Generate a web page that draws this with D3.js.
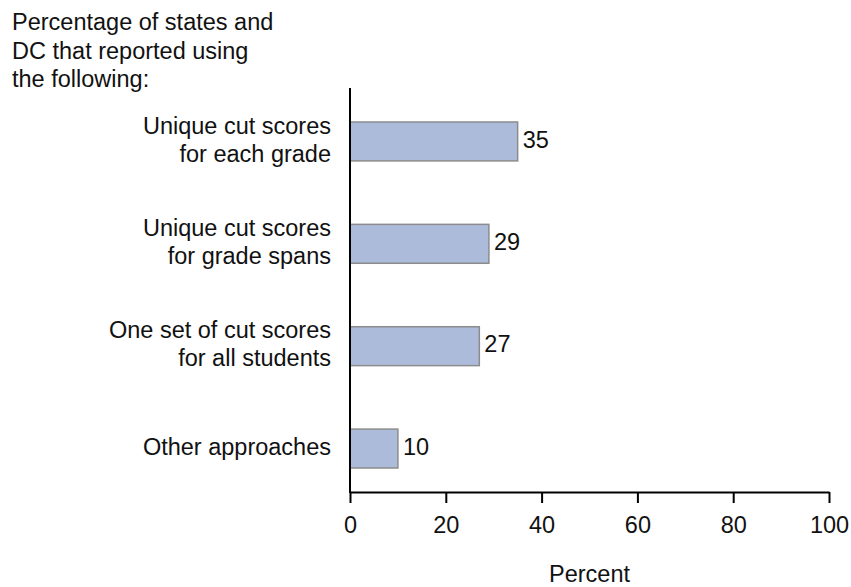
<!DOCTYPE html>
<html>
<head>
<meta charset="utf-8">
<script src="https://cdn.jsdelivr.net/npm/d3@7"></script>
<style>
  html, body { margin: 0; padding: 0; background: #fff; }
  svg { display: block; font-family: "Liberation Sans", Arial, Helvetica, sans-serif; }
</style>
</head>
<body>
<svg id="chart" width="851" height="587"></svg>
<script>
const categories = [
  ["Unique cut scores", "for each grade"],
  ["Unique cut scores", "for grade spans"],
  ["One set of cut scores", "for all students"],
  ["Other approaches"]
];
const values = [35, 29, 27, 10];
const xTicks = [0, 20, 40, 60, 80, 100];
const titleLines = ["Percentage of states and", "DC that reported using", "the following:"];
const xAxisTitle = "Percent";

const svg = d3.select("#chart");
const fontSize = 23.5;
const textColor = "#111";

const x = d3.scaleLinear().domain([0, 100]).range([350, 829]);
const keys = categories.map((c, i) => String(i));
const y = d3.scaleBand().domain(keys).range([122, 468]).paddingInner(0.62).paddingOuter(0);
const axisY = 492;

// Title
const title = svg.append("text").attr("x", 12).attr("y", 30)
  .attr("font-size", fontSize).attr("fill", textColor);
titleLines.forEach((t, i) => {
  title.append("tspan").attr("x", 12).attr("dy", i === 0 ? 0 : 28.5).text(t);
});

// Bars
svg.selectAll("rect.bar").data(values).enter().append("rect")
  .attr("class", "bar")
  .attr("x", x(0))
  .attr("y", (d, i) => y(keys[i]))
  .attr("width", d => x(d) - x(0))
  .attr("height", y.bandwidth())
  .attr("fill", "#adbbdb")
  .attr("stroke", "#8c8c8c")
  .attr("stroke-width", 1.5);

// Value labels
svg.selectAll("text.val").data(values).enter().append("text")
  .attr("class", "val")
  .attr("x", d => x(d) + 5)
  .attr("y", (d, i) => y(keys[i]) + y.bandwidth() / 2 - 2)
  .attr("dy", "0.35em")
  .attr("font-size", fontSize)
  .attr("fill", textColor)
  .text(d => d);

// Category labels
categories.forEach((lines, i) => {
  const cy = y(keys[i]) + y.bandwidth() / 2 - 2;
  const t = svg.append("text")
    .attr("text-anchor", "end")
    .attr("font-size", fontSize)
    .attr("fill", textColor);
  const n = lines.length;
  lines.forEach((ln, j) => {
    t.append("tspan")
      .attr("x", 331)
      .attr("y", cy + (j - (n - 1) / 2) * 28)
      .attr("dy", "0.35em")
      .text(ln);
  });
});

// Y axis line
svg.append("line")
  .attr("x1", x(0)).attr("x2", x(0))
  .attr("y1", 88).attr("y2", axisY + 1)
  .attr("stroke", "#000").attr("stroke-width", 2);

// X axis
const xAxis = d3.axisBottom(x).tickValues(xTicks).tickSize(11).tickSizeOuter(0).tickPadding(13).tickFormat(d3.format("d"));
const gx = svg.append("g").attr("transform", `translate(0,${axisY})`).call(xAxis);
gx.select(".domain").attr("stroke", "#000").attr("stroke-width", 2);
gx.selectAll(".tick line").attr("stroke", "#000").attr("stroke-width", 2);
gx.selectAll(".tick text").attr("font-size", fontSize).attr("fill", textColor)
  .attr("font-family", "Liberation Sans, Arial, sans-serif");

// X axis title
svg.append("text")
  .attr("x", (x(0) + x(100)) / 2)
  .attr("y", 582)
  .attr("text-anchor", "middle")
  .attr("font-size", fontSize)
  .attr("fill", textColor)
  .text(xAxisTitle);
</script>
</body>
</html>
